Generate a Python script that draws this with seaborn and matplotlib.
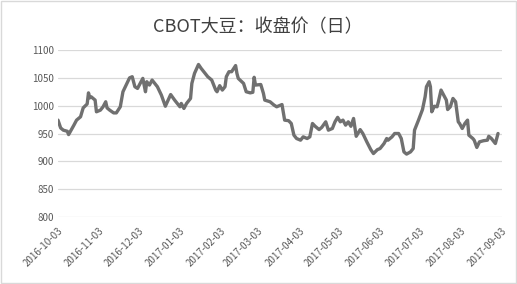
import matplotlib
matplotlib.use("Agg")
import matplotlib.pyplot as plt
import seaborn as sns
import pandas as pd

dates = [
    "2016-10-03", "2016-10-05", "2016-10-07", "2016-10-10", "2016-10-11", "2016-10-15",
    "2016-10-17", "2016-10-20", "2016-10-22", "2016-10-25", "2016-10-26", "2016-10-27",
    "2016-10-28", "2016-10-31", "2016-11-01", "2016-11-04", "2016-11-06", "2016-11-08",
    "2016-11-09", "2016-11-11", "2016-11-14", "2016-11-16", "2016-11-19", "2016-11-21",
    "2016-11-24", "2016-11-26", "2016-11-28", "2016-11-30", "2016-12-02", "2016-12-04",
    "2016-12-06", "2016-12-08", "2016-12-09", "2016-12-11", "2016-12-13", "2016-12-15",
    "2016-12-17", "2016-12-20", "2016-12-23", "2016-12-27", "2016-12-30", "2017-01-03",
    "2017-01-04", "2017-01-06", "2017-01-08", "2017-01-11", "2017-01-12", "2017-01-14",
    "2017-01-17", "2017-01-19", "2017-01-22", "2017-01-24", "2017-01-27", "2017-01-30",
    "2017-01-31", "2017-02-02", "2017-02-04", "2017-02-06", "2017-02-07", "2017-02-09",
    "2017-02-11", "2017-02-14", "2017-02-15", "2017-02-16", "2017-02-20", "2017-02-22",
    "2017-02-25", "2017-02-27", "2017-02-28", "2017-03-01", "2017-03-05", "2017-03-07",
    "2017-03-08", "2017-03-12", "2017-03-15", "2017-03-17", "2017-03-20", "2017-03-21",
    "2017-03-23", "2017-03-26", "2017-03-28", "2017-03-30", "2017-04-01", "2017-04-04",
    "2017-04-06", "2017-04-09", "2017-04-11", "2017-04-13", "2017-04-15", "2017-04-18",
    "2017-04-20", "2017-04-23", "2017-04-25", "2017-04-28", "2017-04-30", "2017-05-02",
    "2017-05-04", "2017-05-06", "2017-05-08", "2017-05-10", "2017-05-12", "2017-05-14",
    "2017-05-16", "2017-05-19", "2017-05-21", "2017-05-24", "2017-05-27", "2017-05-29",
    "2017-06-01", "2017-06-03", "2017-06-06", "2017-06-08", "2017-06-09", "2017-06-12",
    "2017-06-14", "2017-06-17", "2017-06-19", "2017-06-21", "2017-06-23", "2017-06-26",
    "2017-06-28", "2017-06-29", "2017-07-02", "2017-07-05", "2017-07-07", "2017-07-08",
    "2017-07-10", "2017-07-11", "2017-07-12", "2017-07-14", "2017-07-16", "2017-07-17",
    "2017-07-19", "2017-07-21", "2017-07-23", "2017-07-24", "2017-07-26", "2017-07-28",
    "2017-07-30", "2017-08-01", "2017-08-02", "2017-08-04", "2017-08-06", "2017-08-08",
    "2017-08-09", "2017-08-12", "2017-08-13", "2017-08-15", "2017-08-17", "2017-08-20",
    "2017-08-23", "2017-08-24", "2017-08-26", "2017-08-29", "2017-08-31",
]

close_price = [
    974, 960, 956, 954, 948, 965,
    974, 980, 996, 1003, 1023, 1014,
    1016, 1010, 989, 992, 998, 1007,
    996, 992, 987, 987, 998, 1025,
    1040, 1050, 1052, 1034, 1031, 1040,
    1049, 1025, 1043, 1037, 1046, 1040,
    1034, 1019, 999, 1020, 1010, 998,
    1004, 995, 1004, 1013, 1040, 1058,
    1074, 1067, 1058, 1052, 1046, 1028,
    1025, 1036, 1028, 1034, 1052, 1061,
    1061, 1072, 1058, 1049, 1040, 1025,
    1023, 1024, 1051, 1037, 1038, 1022,
    1010, 1007, 1001, 998, 1001, 1002,
    974, 973, 968, 947, 941, 938,
    944, 941, 944, 968, 963, 957,
    961, 971, 956, 959, 971, 979,
    971, 974, 965, 971, 963, 977,
    945, 957, 950, 935, 921, 914,
    921, 923, 932, 941, 938, 944,
    950, 950, 941, 917, 913, 917,
    923, 956, 974, 993, 1016, 1034,
    1043, 1034, 989, 999, 998, 1007,
    1028, 1019, 1010, 993, 998, 1013,
    1007, 971, 968, 959, 968, 974,
    947, 941, 938, 925, 935, 937,
    938, 945, 941, 932, 950,
]

tick_dates = [
    "2016-10-03", "2016-11-03", "2016-12-03", "2017-01-03", "2017-02-03", "2017-03-03",
    "2017-04-03", "2017-05-03", "2017-06-03", "2017-07-03", "2017-08-03", "2017-09-03",
]
y_ticks = [800, 850, 900, 950, 1000, 1050, 1100]
title = "CBOT大豆：收盘价（日）"

df = pd.DataFrame({"date": pd.to_datetime(dates), "close": close_price})

sns.set_theme(style="white")
plt.rcParams["font.family"] = ["Noto Sans CJK SC", "DejaVu Sans"]

fig = plt.figure(figsize=(5.17, 2.84), dpi=100)
ax = fig.add_axes([58 / 517, 1 - 217 / 284, 444 / 517, 167 / 284])

sns.lineplot(data=df, x="date", y="close", ax=ax, color="#707070", linewidth=2.4)

ax.set_xlim(pd.Timestamp(tick_dates[0]), pd.Timestamp(tick_dates[-1]))
ax.set_ylim(800, 1100)
ax.set_yticks(y_ticks)
ax.set_yticklabels([str(v) for v in y_ticks], fontsize=7, color="#595959")
ax.set_xticks(pd.to_datetime(tick_dates))
ax.set_xticklabels(tick_dates, rotation=45, ha="right", rotation_mode="anchor",
                   fontsize=7, color="#595959")
ax.tick_params(axis="both", length=0, pad=3)
ax.tick_params(axis="x", pad=6)
ax.grid(axis="y", color="#d9d9d9", linewidth=0.9)
ax.set_axisbelow(True)
for s in ax.spines.values():
    s.set_visible(False)
ax.set_xlabel("")
ax.set_ylabel("")

fig.text(258 / 517, 1 - 27 / 284, title, ha="center", va="center",
         fontsize=13, color="#404040")

fig.patches.append(plt.Rectangle((0.001, 0.002), 0.997, 0.995, transform=fig.transFigure,
                                 fill=False, edgecolor="#d9d9d9", linewidth=1))

fig.savefig("out.png", dpi=100)
